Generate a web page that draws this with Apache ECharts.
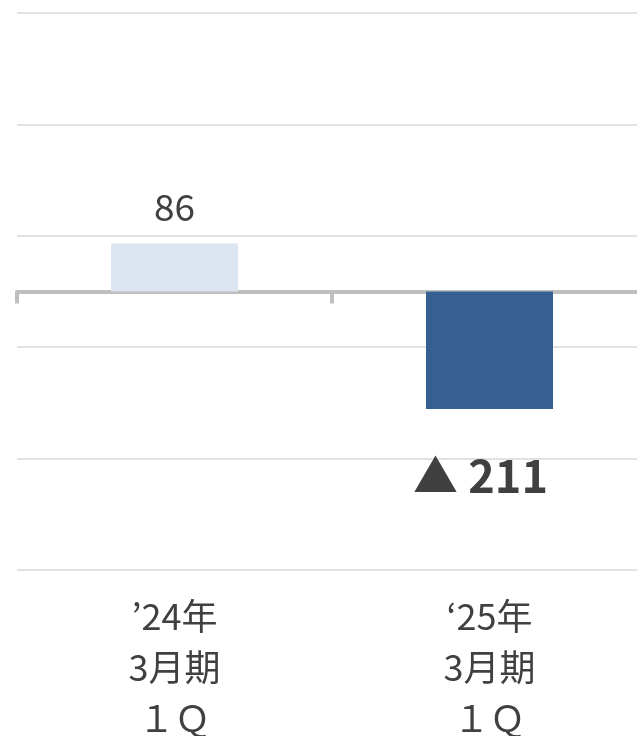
<!DOCTYPE html>
<html>
<head>
<meta charset="utf-8">
<script src="https://cdn.jsdelivr.net/npm/echarts@6/dist/echarts.min.js"></script>
<style>
  html, body { margin: 0; padding: 0; background: #fff; }
  #chart { width: 637px; height: 736px; }
</style>
</head>
<body>
<div id="chart"></div>
<script>
// periods (x axis)
const categories = ['’24年\n3月期\n１Ｑ', '‘25年\n3月期\n１Ｑ'];
// values, negative shown with ▲
const values = [86, -211];
const barColors = ['#dce6f2', '#376092'];
const yTicks = { min: -500, max: 500, interval: 200 };

const FONT = "'Noto Sans CJK JP', 'Noto Sans', sans-serif";

const chart = echarts.init(document.getElementById('chart'), null, { renderer: 'canvas' });

const option = {
  animation: false,
  backgroundColor: '#ffffff',
  grid: {
    left: 17, right: -10, top: 13, bottom: 166,
    containLabel: false,
    outerBoundsMode: 'none'
  },
  xAxis: [
    {
      // zero line with ticks
      type: 'category',
      data: categories,
      axisLine: { onZero: true, lineStyle: { color: '#bfbfbf', width: 4 } },
      axisTick: { show: true, length: 12, lineStyle: { color: '#bfbfbf', width: 4 } },
      axisLabel: { show: false },
      splitLine: { show: false }
    },
    {
      // labels at the bottom
      type: 'category',
      data: categories,
      position: 'bottom',
      axisLine: { show: false, onZero: false },
      axisTick: { show: false },
      axisLabel: {
        margin: 21,
        color: '#404040',
        fontFamily: FONT,
        fontSize: 36,
        lineHeight: 51
      }
    }
  ],
  yAxis: {
    type: 'value',
    min: yTicks.min,
    max: yTicks.max,
    interval: yTicks.interval,
    axisLine: { show: false },
    axisTick: { show: false },
    axisLabel: { show: false },
    splitLine: { lineStyle: { color: '#d9d9d9', width: 1.5 } }
  },
  series: [{
    type: 'bar',
    barWidth: 127,
    data: values.map((v, i) => ({
      value: v,
      itemStyle: { color: barColors[i] },
      label: v < 0 ? {
        show: true,
        position: 'bottom',
        distance: 44,
        offset: [-9, 0],
        formatter: '▲ ' + Math.abs(v),
        color: '#404040',
        fontFamily: FONT,
        fontWeight: 'bold',
        fontSize: 45
      } : {
        show: true,
        position: 'top',
        distance: 18,
        formatter: String(v),
        color: '#404040',
        fontFamily: FONT,
        fontSize: 37
      }
    }))
  }]
};

chart.setOption(option);
</script>
</body>
</html>
